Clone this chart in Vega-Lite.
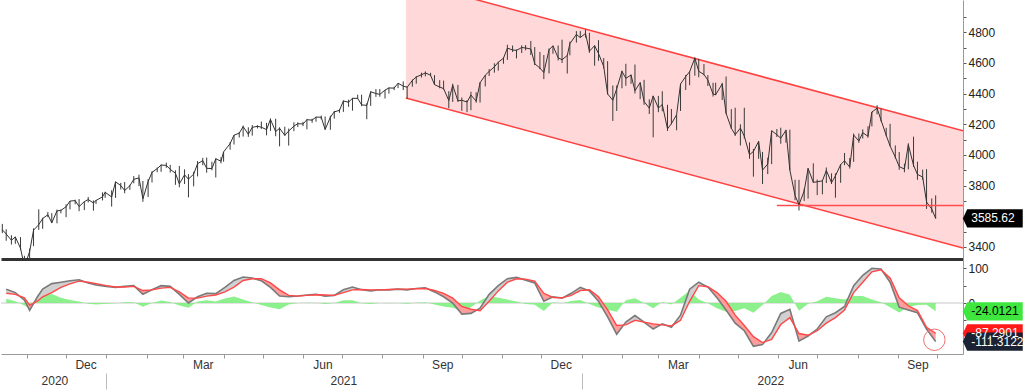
{
"$schema":"https://vega.github.io/schema/vega-lite/v6.json",
"padding":0,
"spacing":1,
"background":"white",
"config":{"view":{"stroke":null},"axis":{"labelFont":"Liberation Sans","labelFontSize":12,"labelColor":"#222","grid":false}},
"datasets":{
"ch":[{"d":"2021-08-19","u":5137,"lo":4372},{"d":"2022-10-21","u":4158,"lo":3392}],
"hl":[{"d":"2022-05-31","d2":"2022-10-21","v":3670}],
"lp":[{"v":3585.62,"t":"3585.62"}],
"lp2":[{"v":-24.0121,"t":"-24.0121","k":"a"},{"v":-87.2901,"t":"-87.2901","k":"b"},{"v":-111.3122,"t":"-111.3122","k":"c"}],
"px":[
{"d":"2020-10-13","l":3490,"h":3550,"c":3512},{"d":"2020-10-16","l":3440,"h":3515,"c":3484},{"d":"2020-10-20","l":3415,"h":3476,"c":3443},{"d":"2020-10-23","l":3420,"h":3466,"c":3465},{"d":"2020-10-27","l":3380,"h":3464,"c":3391},{"d":"2020-10-30","l":3233,"h":3342,"c":3270},{"d":"2020-11-03","l":3279,"h":3389,"c":3370},{"d":"2020-11-06","l":3405,"h":3521,"c":3509},{"d":"2020-11-10","l":3511,"h":3645,"c":3545},{"d":"2020-11-13","l":3518,"h":3590,"c":3585},{"d":"2020-11-17","l":3594,"h":3628,"c":3610},{"d":"2020-11-20","l":3555,"h":3620,"c":3557},{"d":"2020-11-24","l":3554,"h":3643,"c":3635},{"d":"2020-11-27","l":3619,"h":3644,"c":3638},{"d":"2020-12-01","l":3594,"h":3678,"c":3662},{"d":"2020-12-04","l":3645,"h":3699,"c":3699},{"d":"2020-12-08","l":3678,"h":3708,"c":3702},{"d":"2020-12-11","l":3633,"h":3712,"c":3663},{"d":"2020-12-15","l":3640,"h":3697,"c":3695},{"d":"2020-12-18","l":3690,"h":3726,"c":3709},{"d":"2020-12-22","l":3636,"h":3703,"c":3687},{"d":"2020-12-24","l":3680,"h":3706,"c":3703},{"d":"2020-12-29","l":3703,"h":3756,"c":3727},{"d":"2020-12-31","l":3720,"h":3760,"c":3756},
{"d":"2021-01-05","l":3663,"h":3770,"c":3726},{"d":"2021-01-08","l":3720,"h":3826,"c":3824},{"d":"2021-01-12","l":3775,"h":3818,"c":3801},{"d":"2021-01-15","l":3750,"h":3823,"c":3768},{"d":"2021-01-19","l":3772,"h":3805,"c":3799},{"d":"2021-01-22","l":3815,"h":3862,"c":3841},{"d":"2021-01-26","l":3797,"h":3871,"c":3850},{"d":"2021-01-29","l":3694,"h":3830,"c":3714},{"d":"2021-02-02","l":3725,"h":3843,"c":3826},{"d":"2021-02-05","l":3820,"h":3894,"c":3886},{"d":"2021-02-09","l":3887,"h":3918,"c":3911},{"d":"2021-02-12","l":3890,"h":3938,"c":3934},{"d":"2021-02-16","l":3916,"h":3950,"c":3932},{"d":"2021-02-19","l":3885,"h":3935,"c":3906},{"d":"2021-02-23","l":3805,"h":3900,"c":3881},{"d":"2021-02-26","l":3789,"h":3928,"c":3811},{"d":"2021-03-02","l":3810,"h":3906,"c":3870},{"d":"2021-03-05","l":3723,"h":3875,"c":3842},{"d":"2021-03-09","l":3795,"h":3890,"c":3875},{"d":"2021-03-12","l":3860,"h":3960,"c":3943},{"d":"2021-03-16","l":3933,"h":3981,"c":3963},{"d":"2021-03-19","l":3884,"h":3983,"c":3913},{"d":"2021-03-23","l":3900,"h":3956,"c":3911},{"d":"2021-03-26","l":3853,"h":3978,"c":3975},{"d":"2021-03-30","l":3945,"h":3985,"c":3959},{"d":"2021-04-01","l":3956,"h":4020,"c":4020},{"d":"2021-04-06","l":4034,"h":4084,"c":4074},{"d":"2021-04-09","l":4068,"h":4130,"c":4129},{"d":"2021-04-13","l":4114,"h":4149,"c":4142},{"d":"2021-04-16","l":4120,"h":4191,"c":4185},{"d":"2021-04-20","l":4118,"h":4180,"c":4135},{"d":"2021-04-23","l":4126,"h":4195,"c":4180},{"d":"2021-04-27","l":4173,"h":4194,"c":4187},{"d":"2021-04-30","l":4170,"h":4218,"c":4181},{"d":"2021-05-04","l":4128,"h":4209,"c":4165},{"d":"2021-05-07","l":4157,"h":4238,"c":4232},{"d":"2021-05-11","l":4122,"h":4236,"c":4152},{"d":"2021-05-14","l":4056,"h":4180,"c":4174},{"d":"2021-05-18","l":4125,"h":4184,"c":4128},{"d":"2021-05-21","l":4061,"h":4172,"c":4156},{"d":"2021-05-25","l":4155,"h":4213,"c":4188},{"d":"2021-05-28","l":4182,"h":4213,"c":4204},{"d":"2021-06-01","l":4188,"h":4216,"c":4202},{"d":"2021-06-04","l":4167,"h":4234,"c":4230},{"d":"2021-06-08","l":4210,"h":4237,"c":4227},{"d":"2021-06-11","l":4217,"h":4249,"c":4247},{"d":"2021-06-15","l":4232,"h":4257,"c":4246},{"d":"2021-06-18","l":4165,"h":4251,"c":4166},{"d":"2021-06-22","l":4164,"h":4256,"c":4246},{"d":"2021-06-25","l":4237,"h":4287,"c":4281},{"d":"2021-06-29","l":4275,"h":4300,"c":4291},{"d":"2021-07-02","l":4281,"h":4356,"c":4352},{"d":"2021-07-06","l":4314,"h":4360,"c":4344},{"d":"2021-07-09","l":4289,"h":4372,"c":4370},{"d":"2021-07-13","l":4365,"h":4393,"c":4369},{"d":"2021-07-16","l":4318,"h":4393,"c":4327},{"d":"2021-07-20","l":4233,"h":4337,"c":4323},{"d":"2021-07-23","l":4320,"h":4415,"c":4412},{"d":"2021-07-27","l":4379,"h":4430,"c":4401},{"d":"2021-07-30","l":4380,"h":4430,"c":4395},{"d":"2021-08-03","l":4368,"h":4424,"c":4423},{"d":"2021-08-06","l":4400,"h":4440,"c":4437},{"d":"2021-08-10","l":4423,"h":4445,"c":4436},{"d":"2021-08-13","l":4436,"h":4469,"c":4468},{"d":"2021-08-17","l":4423,"h":4480,"c":4449},{"d":"2021-08-20","l":4367,"h":4445,"c":4442},{"d":"2021-08-24","l":4445,"h":4492,"c":4486},{"d":"2021-08-27","l":4465,"h":4513,"c":4509},{"d":"2021-08-31","l":4505,"h":4537,"c":4523},{"d":"2021-09-03","l":4513,"h":4545,"c":4535},{"d":"2021-09-07","l":4517,"h":4536,"c":4520},{"d":"2021-09-10","l":4457,"h":4521,"c":4459},{"d":"2021-09-14","l":4435,"h":4488,"c":4443},{"d":"2021-09-17","l":4427,"h":4485,"c":4433},{"d":"2021-09-21","l":4305,"h":4416,"c":4355},{"d":"2021-09-24","l":4346,"h":4465,"c":4455},{"d":"2021-09-28","l":4346,"h":4457,"c":4353},{"d":"2021-10-01","l":4288,"h":4375,"c":4357},{"d":"2021-10-05","l":4279,"h":4358,"c":4345},{"d":"2021-10-08","l":4292,"h":4412,"c":4391},{"d":"2021-10-12","l":4341,"h":4409,"c":4351},{"d":"2021-10-15","l":4342,"h":4475,"c":4471},{"d":"2021-10-19","l":4447,"h":4522,"c":4520},{"d":"2021-10-22","l":4515,"h":4560,"c":4545},{"d":"2021-10-26","l":4537,"h":4598,"c":4575},{"d":"2021-10-29","l":4550,"h":4608,"c":4605},{"d":"2021-11-02","l":4595,"h":4636,"c":4631},{"d":"2021-11-05","l":4620,"h":4719,"c":4697},{"d":"2021-11-09","l":4672,"h":4714,"c":4685},{"d":"2021-11-12","l":4630,"h":4688,"c":4682},{"d":"2021-11-16","l":4665,"h":4715,"c":4701},{"d":"2021-11-19","l":4683,"h":4717,"c":4698},{"d":"2021-11-23","l":4652,"h":4744,"c":4691},{"d":"2021-11-26","l":4586,"h":4704,"c":4595},{"d":"2021-11-30","l":4560,"h":4672,"c":4567},{"d":"2021-12-03","l":4495,"h":4652,"c":4538},{"d":"2021-12-07","l":4532,"h":4695,"c":4686},{"d":"2021-12-10","l":4660,"h":4713,"c":4712},{"d":"2021-12-14","l":4616,"h":4714,"c":4634},{"d":"2021-12-17","l":4600,"h":4752,"c":4621},{"d":"2021-12-21","l":4531,"h":4651,"c":4649},{"d":"2021-12-23","l":4650,"h":4740,"c":4726},{"d":"2021-12-28","l":4733,"h":4808,"c":4786},{"d":"2021-12-31","l":4765,"h":4808,"c":4766},
{"d":"2022-01-04","l":4766,"h":4818,"c":4793},{"d":"2022-01-07","l":4666,"h":4797,"c":4677},{"d":"2022-01-11","l":4582,"h":4714,"c":4713},{"d":"2022-01-14","l":4614,"h":4749,"c":4662},{"d":"2022-01-18","l":4565,"h":4632,"c":4577},{"d":"2022-01-21","l":4395,"h":4612,"c":4398},{"d":"2022-01-25","l":4222,"h":4453,"c":4357},{"d":"2022-01-28","l":4287,"h":4453,"c":4432},{"d":"2022-02-01","l":4435,"h":4550,"c":4546},{"d":"2022-02-04","l":4451,"h":4595,"c":4500},{"d":"2022-02-08","l":4464,"h":4525,"c":4521},{"d":"2022-02-11","l":4401,"h":4590,"c":4419},{"d":"2022-02-15","l":4364,"h":4473,"c":4472},{"d":"2022-02-18","l":4327,"h":4490,"c":4349},{"d":"2022-02-22","l":4267,"h":4363,"c":4305},{"d":"2022-02-25","l":4115,"h":4386,"c":4385},{"d":"2022-03-01","l":4279,"h":4385,"c":4306},{"d":"2022-03-04","l":4285,"h":4416,"c":4329},{"d":"2022-03-08","l":4157,"h":4327,"c":4170},{"d":"2022-03-11","l":4200,"h":4300,"c":4204},{"d":"2022-03-15","l":4161,"h":4262,"c":4262},{"d":"2022-03-18","l":4287,"h":4465,"c":4463},{"d":"2022-03-22","l":4424,"h":4522,"c":4512},{"d":"2022-03-25","l":4455,"h":4546,"c":4543},{"d":"2022-03-29","l":4517,"h":4637,"c":4632},{"d":"2022-04-01","l":4507,"h":4627,"c":4546},{"d":"2022-04-05","l":4520,"h":4593,"c":4525},{"d":"2022-04-08","l":4450,"h":4521,"c":4488},{"d":"2022-04-12","l":4381,"h":4471,"c":4397},{"d":"2022-04-14","l":4390,"h":4471,"c":4393},{"d":"2022-04-19","l":4358,"h":4471,"c":4463},{"d":"2022-04-22","l":4268,"h":4512,"c":4272},{"d":"2022-04-26","l":4170,"h":4299,"c":4175},{"d":"2022-04-29","l":4124,"h":4308,"c":4132},{"d":"2022-05-03","l":4062,"h":4200,"c":4175},{"d":"2022-05-06","l":4107,"h":4308,"c":4123},{"d":"2022-05-10","l":3975,"h":4082,"c":4001},{"d":"2022-05-13","l":3858,"h":4039,"c":4023},{"d":"2022-05-17","l":3975,"h":4090,"c":4088},{"d":"2022-05-20","l":3810,"h":4020,"c":3901},{"d":"2022-05-24","l":3875,"h":3982,"c":3941},{"d":"2022-05-27","l":3940,"h":4158,"c":4158},{"d":"2022-05-31","l":4117,"h":4169,"c":4132},{"d":"2022-06-03","l":4073,"h":4178,"c":4109},{"d":"2022-06-07","l":4080,"h":4164,"c":4161},{"d":"2022-06-10","l":3900,"h":4165,"c":3901},{"d":"2022-06-14","l":3705,"h":3838,"c":3735},{"d":"2022-06-17","l":3637,"h":3838,"c":3675},{"d":"2022-06-21","l":3700,"h":3780,"c":3765},{"d":"2022-06-24","l":3715,"h":3913,"c":3912},{"d":"2022-06-28","l":3819,"h":3945,"c":3821},{"d":"2022-07-01","l":3738,"h":3840,"c":3825},{"d":"2022-07-05","l":3743,"h":3832,"c":3831},{"d":"2022-07-08","l":3817,"h":3918,"c":3899},{"d":"2022-07-12","l":3810,"h":3880,"c":3819},{"d":"2022-07-15","l":3721,"h":3880,"c":3863},{"d":"2022-07-19","l":3818,"h":3940,"c":3937},{"d":"2022-07-22","l":3933,"h":4013,"c":3962},{"d":"2022-07-26","l":3911,"h":3980,"c":3921},{"d":"2022-07-29","l":3955,"h":4140,"c":4130},{"d":"2022-08-02","l":4079,"h":4140,"c":4091},{"d":"2022-08-05","l":4107,"h":4167,"c":4145},{"d":"2022-08-09","l":4112,"h":4187,"c":4122},{"d":"2022-08-12","l":4186,"h":4281,"c":4280},{"d":"2022-08-16","l":4265,"h":4325,"c":4305},{"d":"2022-08-19","l":4219,"h":4302,"c":4228},{"d":"2022-08-23","l":4122,"h":4177,"c":4128},{"d":"2022-08-26","l":4057,"h":4203,"c":4058},{"d":"2022-08-30","l":3976,"h":4062,"c":3986},{"d":"2022-09-02","l":3903,"h":4019,"c":3924},{"d":"2022-09-06","l":3887,"h":3943,"c":3908},{"d":"2022-09-09","l":3906,"h":4076,"c":4067},{"d":"2022-09-13","l":3922,"h":4119,"c":3932},{"d":"2022-09-16","l":3838,"h":3956,"c":3873},{"d":"2022-09-20","l":3838,"h":3904,"c":3856},{"d":"2022-09-23","l":3648,"h":3907,"c":3693},{"d":"2022-09-27","l":3623,"h":3716,"c":3647},{"d":"2022-09-30","l":3584,"h":3736,"c":3586}
],
"os":[
{"d":"2020-10-16","f":40,"s":28,"h":12,"g":1},{"d":"2020-10-23","f":30,"s":25,"h":5,"g":1},
{"d":"2020-10-23","f":30,"s":25,"h":5,"g":2},{"d":"2020-10-30","f":8,"s":15,"h":-7,"g":2},{"d":"2020-11-03","f":-21,"s":-6,"h":-15,"g":2},{"d":"2020-11-09","f":18,"s":5,"h":13,"g":2},
{"d":"2020-11-09","f":18,"s":5,"h":13,"g":3},{"d":"2020-11-13","f":40,"s":18,"h":22,"g":3},{"d":"2020-11-20","f":56,"s":30,"h":26,"g":3},{"d":"2020-11-27","f":60,"s":45,"h":15,"g":3},{"d":"2020-12-04","f":64,"s":55,"h":9,"g":3},{"d":"2020-12-11","f":67,"s":63,"h":4,"g":3},{"d":"2020-12-18","f":58,"s":60,"h":-2,"g":3},
{"d":"2020-12-18","f":58,"s":60,"h":-2,"g":4},{"d":"2020-12-24","f":52,"s":56,"h":-4,"g":4},{"d":"2021-01-01","f":48,"s":50,"h":-2,"g":4},{"d":"2021-01-08","f":45,"s":46,"h":-1,"g":4},{"d":"2021-01-15","f":48,"s":46,"h":2,"g":4},{"d":"2021-01-22","f":50,"s":48,"h":2,"g":4},{"d":"2021-01-29","f":25,"s":36,"h":-11,"g":4},{"d":"2021-02-05","f":38,"s":38,"h":0,"g":4},
{"d":"2021-02-05","f":38,"s":38,"h":0,"g":5},{"d":"2021-02-12","f":50,"s":43,"h":7,"g":5},{"d":"2021-02-19","f":48,"s":45,"h":3,"g":5},
{"d":"2021-02-19","f":48,"s":45,"h":3,"g":6},{"d":"2021-02-26","f":25,"s":32,"h":-7,"g":6},{"d":"2021-03-05","f":0,"s":14,"h":-14,"g":6},{"d":"2021-03-12","f":18,"s":14,"h":4,"g":6},
{"d":"2021-03-12","f":18,"s":14,"h":4,"g":7},{"d":"2021-03-19","f":28,"s":20,"h":8,"g":7},{"d":"2021-03-26","f":27,"s":23,"h":4,"g":7},{"d":"2021-04-02","f":45,"s":32,"h":13,"g":7},{"d":"2021-04-09","f":65,"s":46,"h":19,"g":7},{"d":"2021-04-16","f":75,"s":65,"h":10,"g":7},{"d":"2021-04-23","f":72,"s":70,"h":2,"g":7},
{"d":"2021-04-23","f":72,"s":70,"h":2,"g":8},{"d":"2021-04-30","f":64,"s":70,"h":-6,"g":8},{"d":"2021-05-07","f":45,"s":58,"h":-13,"g":8},{"d":"2021-05-14","f":20,"s":38,"h":-18,"g":8},{"d":"2021-05-21","f":18,"s":22,"h":-4,"g":8},{"d":"2021-05-28","f":20,"s":20,"h":0,"g":8},
{"d":"2021-05-28","f":20,"s":20,"h":0,"g":9},{"d":"2021-06-04","f":23,"s":22,"h":1,"g":9},{"d":"2021-06-11","f":25,"s":24,"h":1,"g":9},{"d":"2021-06-18","f":20,"s":23,"h":-3,"g":9},{"d":"2021-06-25","f":22,"s":22,"h":0,"g":9},{"d":"2021-07-02","f":38,"s":30,"h":8,"g":9},{"d":"2021-07-09","f":46,"s":38,"h":8,"g":9},{"d":"2021-07-16","f":38,"s":39,"h":-1,"g":9},
{"d":"2021-07-16","f":38,"s":39,"h":-1,"g":10},{"d":"2021-07-23","f":35,"s":38,"h":-3,"g":10},{"d":"2021-07-30","f":38,"s":38,"h":0,"g":10},{"d":"2021-08-06","f":38,"s":39,"h":-1,"g":10},{"d":"2021-08-13","f":40,"s":40,"h":0,"g":10},{"d":"2021-08-20","f":38,"s":40,"h":-2,"g":10},{"d":"2021-08-27","f":42,"s":41,"h":1,"g":10},{"d":"2021-09-03","f":44,"s":42,"h":2,"g":10},{"d":"2021-09-10","f":32,"s":36,"h":-4,"g":10},{"d":"2021-09-17","f":18,"s":28,"h":-10,"g":10},{"d":"2021-09-24","f":0,"s":14,"h":-14,"g":10},{"d":"2021-10-01","f":-32,"s":-10,"h":-22,"g":10},{"d":"2021-10-08","f":-30,"s":-18,"h":-12,"g":10},{"d":"2021-10-15","f":-15,"s":-22,"h":7,"g":10},
{"d":"2021-10-15","f":-15,"s":-22,"h":7,"g":11},{"d":"2021-10-22","f":25,"s":5,"h":20,"g":11},{"d":"2021-10-29","f":50,"s":35,"h":15,"g":11},{"d":"2021-11-05","f":70,"s":60,"h":10,"g":11},{"d":"2021-11-12","f":74,"s":70,"h":4,"g":11},{"d":"2021-11-19","f":66,"s":69,"h":-3,"g":11},
{"d":"2021-11-19","f":66,"s":69,"h":-3,"g":12},{"d":"2021-11-26","f":58,"s":63,"h":-5,"g":12},{"d":"2021-12-03","f":5,"s":28,"h":-23,"g":12},{"d":"2021-12-10","f":18,"s":16,"h":2,"g":12},
{"d":"2021-12-10","f":18,"s":16,"h":2,"g":13},{"d":"2021-12-17","f":14,"s":15,"h":-1,"g":13},{"d":"2021-12-24","f":28,"s":22,"h":6,"g":13},{"d":"2021-12-31","f":45,"s":36,"h":9,"g":13},{"d":"2022-01-07","f":35,"s":38,"h":-3,"g":13},
{"d":"2022-01-07","f":35,"s":38,"h":-3,"g":14},{"d":"2022-01-14","f":5,"s":18,"h":-13,"g":14},{"d":"2022-01-21","f":-40,"s":-20,"h":-20,"g":14},{"d":"2022-01-28","f":-90,"s":-65,"h":-25,"g":14},{"d":"2022-02-04","f":-55,"s":-63,"h":8,"g":14},
{"d":"2022-02-04","f":-55,"s":-63,"h":8,"g":15},{"d":"2022-02-11","f":-36,"s":-50,"h":14,"g":15},{"d":"2022-02-18","f":-55,"s":-55,"h":0,"g":15},
{"d":"2022-02-18","f":-55,"s":-55,"h":0,"g":16},{"d":"2022-02-25","f":-75,"s":-60,"h":-15,"g":16},{"d":"2022-03-04","f":-60,"s":-63,"h":3,"g":16},{"d":"2022-03-11","f":-70,"s":-66,"h":-4,"g":16},
{"d":"2022-03-11","f":-70,"s":-66,"h":-4,"g":17},{"d":"2022-03-18","f":-35,"s":-50,"h":15,"g":17},{"d":"2022-03-25","f":40,"s":5,"h":35,"g":17},{"d":"2022-04-01","f":60,"s":50,"h":10,"g":17},{"d":"2022-04-08","f":46,"s":47,"h":-1,"g":17},
{"d":"2022-04-08","f":46,"s":47,"h":-1,"g":18},{"d":"2022-04-15","f":15,"s":30,"h":-15,"g":18},{"d":"2022-04-22","f":-20,"s":5,"h":-25,"g":18},{"d":"2022-04-29","f":-58,"s":-35,"h":-23,"g":18},{"d":"2022-05-06","f":-80,"s":-65,"h":-15,"g":18},{"d":"2022-05-13","f":-125,"s":-97,"h":-28,"g":18},{"d":"2022-05-20","f":-120,"s":-114,"h":-6,"g":18},
{"d":"2022-05-20","f":-120,"s":-114,"h":-6,"g":19},{"d":"2022-05-27","f":-85,"s":-105,"h":20,"g":19},{"d":"2022-06-03","f":-30,"s":-62,"h":32,"g":19},{"d":"2022-06-10","f":-18,"s":-42,"h":24,"g":19},
{"d":"2022-06-10","f":-18,"s":-42,"h":24,"g":20},{"d":"2022-06-17","f":-110,"s":-88,"h":-22,"g":20},{"d":"2022-06-24","f":-95,"s":-93,"h":-2,"g":20},
{"d":"2022-06-24","f":-95,"s":-93,"h":-2,"g":21},{"d":"2022-07-01","f":-75,"s":-80,"h":5,"g":21},{"d":"2022-07-08","f":-40,"s":-58,"h":18,"g":21},{"d":"2022-07-15","f":-28,"s":-42,"h":14,"g":21},{"d":"2022-07-22","f":-10,"s":-20,"h":10,"g":21},{"d":"2022-07-29","f":50,"s":30,"h":20,"g":21},{"d":"2022-08-05","f":80,"s":60,"h":20,"g":21},{"d":"2022-08-12","f":100,"s":90,"h":10,"g":21},{"d":"2022-08-19","f":98,"s":96,"h":2,"g":21},
{"d":"2022-08-19","f":98,"s":96,"h":2,"g":22},{"d":"2022-08-26","f":60,"s":72,"h":-12,"g":22},{"d":"2022-09-02","f":-12,"s":15,"h":-27,"g":22},{"d":"2022-09-09","f":-20,"s":-8,"h":-12,"g":22},{"d":"2022-09-16","f":-28,"s":-22,"h":-6,"g":22},{"d":"2022-09-23","f":-75,"s":-70,"h":-5,"g":22},{"d":"2022-09-30","f":-111.31,"s":-87.29,"h":-24.02,"g":22}
]
},
"vconcat":[
{
"width":962,"height":259,
"resolve":{"axis":{"x":"independent","y":"independent"}},
"layer":[
{"data":{"name":"ch"},"mark":{"type":"area","color":"#ff0000","opacity":0.15,"clip":true},
 "encoding":{
  "x":{"field":"d","type":"temporal","scale":{"type":"utc","domain":[{"year":2020,"month":10,"date":12,"utc":true},{"year":2022,"month":10,"date":21,"utc":true}]},"axis":{"domain":true,"domainColor":"#333","domainWidth":3,"ticks":false,"labels":false,"grid":false,"title":null}},
  "y":{"field":"u","type":"quantitative","scale":{"domain":[3321,5011],"nice":false,"zero":false},"axis":{"orient":"right","values":[3400,3500,3600,3700,3800,3900,4000,4100,4200,4300,4400,4500,4600,4700,4800,4900],"labelExpr":"datum.value % 200 == 0 ? datum.label : ''","format":"d","tickSize":3,"tickColor":"#555","domainColor":"#999","labelPadding":2,"title":null}},
  "y2":{"field":"lo"}}},
{"data":{"name":"ch"},"mark":{"type":"line","color":"#ff4040","strokeWidth":1.5,"clip":true},"encoding":{"x":{"field":"d","type":"temporal","axis":null},"y":{"field":"u","type":"quantitative","axis":null}}},
{"data":{"name":"ch"},"mark":{"type":"line","color":"#ff4040","strokeWidth":1.5,"clip":true},"encoding":{"x":{"field":"d","type":"temporal","axis":null},"y":{"field":"lo","type":"quantitative","axis":null}}},
{"data":{"name":"px"},"mark":{"type":"rule","color":"#3a3a3a","strokeWidth":1,"clip":true},"encoding":{"x":{"field":"d","type":"temporal","axis":null},"y":{"field":"l","type":"quantitative","axis":null},"y2":{"field":"h"}}},
{"data":{"name":"px"},"mark":{"type":"line","color":"#333","strokeWidth":1,"clip":true},"encoding":{"x":{"field":"d","type":"temporal","axis":null},"y":{"field":"c","type":"quantitative","axis":null}}},
{"data":{"name":"hl"},"mark":{"type":"rule","color":"#ff4d4d","stroke":"#ff4d4d","strokeWidth":1.3,"clip":true},"encoding":{"x":{"field":"d","type":"temporal","axis":null},"x2":{"field":"d2"},"y":{"field":"v","type":"quantitative","axis":null}}},
{"data":{"name":"lp"},"mark":{"type":"point","shape":"M-1.1,0L-0.95,-0.32L1,-0.32L1,0.32L-0.95,0.32Z","size":3249,"filled":true,"color":"#000","fill":"#000","opacity":1,"strokeWidth":0},"encoding":{"x":{"datum":{"year":2022,"month":11,"date":14,"utc":true},"type":"temporal","axis":null},"y":{"field":"v","type":"quantitative","axis":null}}},
{"data":{"name":"lp"},"mark":{"type":"text","align":"left","dx":-23,"color":"#fff","font":"Liberation Sans","fontSize":12},"encoding":{"x":{"datum":{"year":2022,"month":11,"date":14,"utc":true},"type":"temporal","axis":null},"y":{"field":"v","type":"quantitative","axis":null},"text":{"field":"t"}}}
]
},
{
"width":962,"height":94,
"resolve":{"axis":{"x":"independent","y":"independent"}},
"layer":[
{"data":{"values":[{}]},"mark":{"type":"rule","color":"#c8c8c8","strokeWidth":1},"encoding":{"y":{"datum":0,"type":"quantitative","scale":{"domain":[-147,124],"nice":false,"zero":false},"axis":null}}},
{"data":{"name":"os"},"mark":{"type":"area","color":"#80f080","opacity":0.9},
 "encoding":{
  "x":{"field":"d","type":"temporal","scale":{"type":"utc","domain":[{"year":2020,"month":10,"date":12,"utc":true},{"year":2022,"month":10,"date":21,"utc":true}]},"axis":{"orient":"bottom","tickCount":{"interval":"month","step":1},"labels":false,"ticks":true,"tickSize":4,"tickColor":"#999","domain":true,"domainColor":"#999","grid":false,"title":null}},
  "y":{"field":"h","type":"quantitative","axis":null},
  "y2":{"datum":0}}},
{"data":{"name":"os"},"mark":{"type":"area"},
 "encoding":{
  "x":{"field":"d","type":"temporal","axis":{"orient":"bottom","values":[{"year":2020,"month":12,"date":16,"utc":true},{"year":2021,"month":3,"date":16,"utc":true},{"year":2021,"month":6,"date":16,"utc":true},{"year":2021,"month":9,"date":16,"utc":true},{"year":2021,"month":12,"date":16,"utc":true},{"year":2022,"month":3,"date":16,"utc":true},{"year":2022,"month":6,"date":16,"utc":true},{"year":2022,"month":9,"date":16,"utc":true}],"format":"%b","ticks":false,"tickSize":0,"domain":false,"labelPadding":5,"labelColor":"#333","labelFlush":false,"labelOverlap":false,"grid":false,"title":null}},
  "y":{"field":"f","type":"quantitative","axis":{"orient":"right","values":[-100,-50,0,50,100],"labelExpr":"datum.value == 0 || datum.value == 100 ? datum.label : ''","tickSize":3,"tickColor":"#555","domainColor":"#999","labelPadding":2,"title":null}},
  "y2":{"field":"s"},
  "detail":{"field":"g","type":"nominal"},
  "color":{"condition":{"test":"datum.g % 2 == 0","value":"#ff9c9c"},"value":"#d0d0d0"}}},
{"data":{"name":"os"},"mark":{"type":"line","color":"#7a7a7a","strokeWidth":1.6},
 "encoding":{
  "x":{"field":"d","type":"temporal","axis":{"orient":"bottom","values":[{"year":2021,"month":1,"date":1,"utc":true},{"year":2022,"month":1,"date":1,"utc":true}],"labels":false,"ticks":true,"tickSize":16,"tickColor":"#bbb","domain":false,"offset":19,"grid":false,"title":null}},
  "y":{"field":"f","type":"quantitative","axis":null}}},
{"data":{"name":"os"},"mark":{"type":"line","color":"#ff4848","strokeWidth":1.4},
 "encoding":{
  "x":{"field":"d","type":"temporal","axis":{"orient":"bottom","values":[{"year":2020,"month":11,"date":22,"utc":true},{"year":2021,"month":7,"date":2,"utc":true},{"year":2022,"month":5,"date":26,"utc":true}],"format":"%Y","ticks":false,"tickSize":0,"domain":false,"offset":19,"labelPadding":2,"labelColor":"#333","labelFlush":false,"labelOverlap":false,"grid":false,"title":null}},
  "y":{"field":"s","type":"quantitative","axis":null}}},
{"data":{"values":[{}]},"mark":{"type":"point","shape":"circle","filled":false,"size":460,"color":"#f07070","strokeWidth":1,"opacity":1},"encoding":{"x":{"datum":{"year":2022,"month":9,"date":29,"utc":true},"type":"temporal","axis":null},"y":{"datum":-106,"type":"quantitative","axis":null}}},
{"data":{"name":"lp2"},"mark":{"type":"point","shape":"M-1.1,0L-0.95,-0.32L1,-0.32L1,0.32L-0.95,0.32Z","size":3249,"filled":true,"opacity":1,"strokeWidth":0},"encoding":{"x":{"datum":{"year":2022,"month":11,"date":14,"utc":true},"type":"temporal","axis":null},"y":{"field":"v","type":"quantitative","axis":null},"fill":{"field":"k","type":"nominal","scale":{"domain":["a","b","c"],"range":["#3ee63e","#ff1a1a","#1b2233"]},"legend":null}}},
{"data":{"name":"lp2"},"mark":{"type":"text","align":"left","dx":-23,"font":"Liberation Sans","fontSize":12},"encoding":{"x":{"datum":{"year":2022,"month":11,"date":14,"utc":true},"type":"temporal","axis":null},"y":{"field":"v","type":"quantitative","axis":null},"text":{"field":"t"},"color":{"field":"k","type":"nominal","scale":{"domain":["a","b","c"],"range":["#000000","#ffffff","#ffffff"]},"legend":null}}}
]
}
]
}
